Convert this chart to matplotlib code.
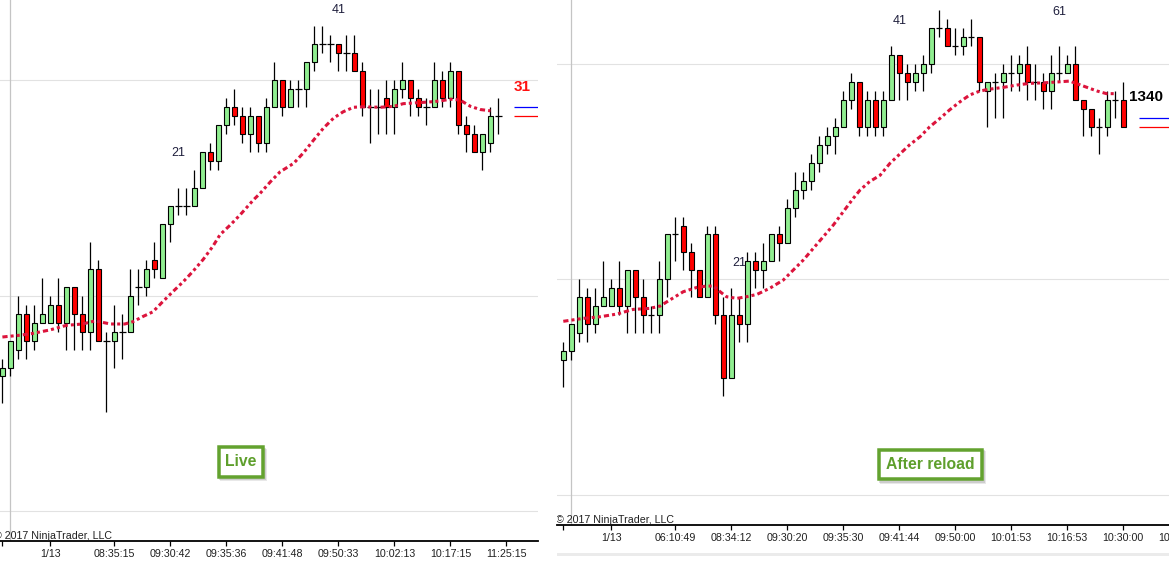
import numpy as np
import matplotlib
matplotlib.use('Agg')
import matplotlib.pyplot as plt
from matplotlib.patches import Rectangle

plt.rcParams['font.family'] = ['Liberation Sans', 'DejaVu Sans']

# prices are in ticks, relative to the middle grid line of each chart
live_open  = [-9, -8, -6, -2, -5, -3, -3, -1, -3, 1, -2, -4, 3, -5, -5, -4, -4, 1, 1, 4, 2,
              8, 10, 10, 10, 12, 16, 15, 19, 21, 20, 18, 20, 17, 21, 24, 21, 23, 23, 26, 28,
              28, 28, 27, 27, 25, 21, 21, 22, 21, 23, 24, 22, 21, 21, 24, 22, 25, 19, 18, 16,
              17, 20]
live_high  = [-7, -5, 0, -1, -1, 2, 0, 2, 1, 1, 0, 6, 4, -4, -1, -2, 3, 3, 4, 6, 8,
              10, 12, 12, 14, 16, 17, 19, 22, 23, 21, 21, 20, 22, 26, 24, 24, 24, 26, 30, 30,
              29, 28, 29, 29, 26, 23, 23, 24, 24, 26, 24, 23, 22, 26, 25, 26, 25, 20, 19, 18,
              21, 22]
live_low   = [-12, -9, -7, -7, -6, -3, -3, -4, -6, -6, -6, -6, -5, -13, -8, -7, -4, -1, 0, 2, 2,
              6, 9, 9, 10, 12, 14, 14, 18, 19, 17, 16, 16, 16, 21, 20, 21, 21, 21, 25, 27,
              26, 25, 25, 25, 20, 17, 18, 18, 18, 22, 20, 20, 19, 21, 21, 21, 18, 16, 16, 14,
              16, 18]
live_close = [-8, -5, -2, -5, -3, -2, -1, -3, 1, -2, -4, 3, -5, -5, -4, -4, 0, 1, 3, 3, 8,
              10, 10, 10, 12, 16, 15, 19, 21, 20, 18, 20, 17, 21, 24, 21, 23, 23, 26, 28, 28,
              28, 27, 27, 25, 21, 21, 21, 21, 23, 24, 22, 21, 21, 24, 22, 25, 19, 18, 16, 18,
              20, 20]

reload_open  = [-9, -8, -6, -2, -5, -3, -3, -1, -3, 1, -2, -4, -4, 0, 5, 6, 3, 1, -2, 5, -4,
                -11, -4, -5, 2, 1, 2, 5, 4, 8, 10, 11, 13, 15, 16, 17, 20, 22, 17, 20, 17,
                20, 25, 23, 22, 23, 24, 28, 28, 26, 26, 27, 27, 21, 22, 22, 23, 23, 24, 22, 22,
                21, 23, 23, 24, 20, 19, 17, 17, 20, 20]
reload_high  = [-7, -5, 0, -1, -1, 2, 0, 2, 1, 1, 0, -3, 2, 5, 7, 7, 4, 1, 6, 6, -2,
                -1, -2, 3, 3, 4, 5, 6, 9, 12, 12, 14, 16, 17, 18, 21, 23, 22, 21, 21, 21,
                26, 25, 24, 24, 25, 28, 30, 29, 28, 28, 29, 27, 22, 23, 24, 25, 25, 26, 24, 23,
                25, 26, 25, 26, 20, 19, 18, 21, 21, 22]
reload_low   = [-12, -9, -7, -7, -6, -3, -3, -4, -6, -6, -6, -6, -6, -2, 2, 1, -2, -2, -2, -5, -13,
                -11, -7, -7, -1, -1, 2, 2, 4, 7, 9, 10, 12, 14, 14, 17, 19, 16, 16, 16, 16,
                20, 20, 20, 21, 21, 23, 27, 26, 25, 25, 26, 21, 17, 18, 18, 21, 21, 20, 20, 19,
                19, 22, 23, 20, 16, 16, 14, 16, 18, 17]
reload_close = [-8, -5, -2, -5, -3, -2, -1, -3, 1, -2, -4, -4, 0, 5, 5, 3, 1, -2, 5, -4, -11,
                -4, -5, 2, 1, 2, 5, 4, 8, 10, 11, 13, 15, 16, 17, 20, 22, 17, 20, 17, 20,
                25, 23, 22, 23, 24, 28, 28, 26, 26, 27, 27, 22, 22, 22, 23, 23, 24, 22, 22, 21,
                23, 23, 24, 20, 19, 17, 17, 20, 20, 17]

# moving average (bar position, value)
live_ma_x = [0, 2.2, 3.8, 6, 8, 10, 11.6, 13.5, 15.3, 16.3, 17.6, 18.8, 20, 21.3, 22.6, 23.8,
             25.1, 26.3, 27.2, 28.5, 29.7, 31.4, 32.2, 33.5, 34.7, 36.4, 37.6, 38.9, 40.1,
             41.4, 42.6, 43.9, 45.1, 47.2, 48.9, 50.1, 51.8, 53.5, 54.7, 56, 57.2, 58.5, 59.7, 61]
live_ma = [-4.6, -4.4, -4.2, -3.8, -3.3, -3.15, -2.8, -3.15, -3.15, -2.9, -2.3, -1.8, -0.7, 0.45,
           1.56, 2.7, 4.05, 5.5, 6.8, 7.9, 9.0, 10.7, 11.4, 12.7, 13.8, 14.75, 15.9, 17.35, 18.65,
           19.8, 20.5, 21.0, 21.05, 21.0, 21.1, 21.4, 21.5, 21.6, 21.7, 21.9, 21.8, 21.1, 20.75, 20.6]
reload_ma_x = [0, 2.5, 4.6, 6.7, 8.75, 10.8, 12.1, 13.3, 15, 16.7, 17.9, 18.75, 19.6, 20.4, 21.7,
               22.9, 24.2, 25.8, 27.5, 28.75, 30, 31.25, 32.5, 33.75, 35, 36.25, 37.1, 38.3, 39.6,
               40.8, 42.1, 43.3, 44.6, 45.8, 47.1, 48.3, 49.6, 50.8, 52.1, 53.3, 55, 56.7, 58.3,
               60, 61.7, 63.3, 65, 66.7, 67.9, 68.9]
reload_ma = [-4.68, -4.35, -4.17, -3.87, -3.35, -3.24, -2.98, -2.31, -1.38, -0.9, -0.75, -0.75,
             -1.38, -1.94, -2.12, -1.94, -1.68, -1.0, -0.08, 1.04, 2.15, 3.45, 4.75, 6.05, 7.54,
             9.03, 9.96, 10.9, 11.6, 12.9, 14.0, 15.0, 15.9, 17.0, 17.95, 18.9, 19.8, 20.55, 21.0,
             21.2, 21.4, 21.66, 21.85, 21.9, 22.0, 22.1, 21.55, 21.0, 20.7, 20.7]

live_ticks = [0, 6, 14, 21, 28, 35, 42, 49, 56, 63]
live_labels = ['', '1/13', '08:35:15', '09:30:42', '09:35:36', '09:41:48', '09:50:33',
               '10:02:13', '10:17:15', '11:25:15']
reload_ticks = [0, 6, 14, 21, 28, 35, 42, 49, 56, 63, 70, 77]
reload_labels = ['', '1/13', '06:10:49', '08:34:12', '09:30:20', '09:35:30', '09:41:44',
                 '09:50:00', '10:01:53', '10:16:53', '10:30:00', '10:45:00']

live_counts = [21, 41]
reload_counts = [21, 41, 61]

W, H = 1169, 570
fig = plt.figure(figsize=(W / 100, H / 100), dpi=100)
fig.patch.set_facecolor('white')


def fx(x):
    return x / W


def fy(y):
    return 1 - y / H


def draw_candles(ax, o, h, l, c):
    o, h, l, c = map(np.array, (o, h, l, c))
    x = np.arange(len(o))
    ax.vlines(x, l, h, color='black', lw=0.9, zorder=2)
    up = c > o
    dn = c < o
    dj = c == o
    ax.bar(x[up], (c - o)[up], bottom=o[up], width=0.63, color='#90EE90',
           edgecolor='black', lw=0.8, zorder=3)
    ax.bar(x[dn], (c - o)[dn], bottom=o[dn], width=0.63, color='#FF0000',
           edgecolor='black', lw=0.8, zorder=3)
    ax.hlines(o[dj], x[dj] - 0.4, x[dj] + 0.4, color='black', lw=0.9, zorder=3)


def setup(ax, xlim, ylim, ticks, labels):
    ax.set_xlim(xlim)
    ax.set_ylim(ylim)
    for s in ['left', 'right', 'top']:
        ax.spines[s].set_visible(False)
    ax.spines['bottom'].set_linewidth(1.3)
    ax.set_yticks([])
    ax.set_xticks(ticks)
    ax.set_xticklabels(labels, fontsize=7.7, color='#202020')
    ax.tick_params(axis='x', length=3.6, width=0.9, pad=2, direction='out')
    for p in (-24, 0, 24):
        ax.axhline(p, color='#e2e2e2', lw=0.8, zorder=0)
    ax.axvline(1, color='#c4c4c4', lw=0.9, zorder=0)


def count_labels(ax, counts, high):
    for n in counts:
        ax.text(n + 1, high[n + 1] + 3.85, str(n), fontsize=9, color='#1e1e3c',
                ha='center', va='center', zorder=5)


def note_box(x0, y0, x1, y1, text):
    lw_px = 3.5
    for off, a in ((3, 0.18), (2, 0.25)):
        fig.patches.append(Rectangle((fx(x0 + off), fy(y1 + off)), (x1 - x0) / W, (y1 - y0) / H,
                                     transform=fig.transFigure, color='#808080', alpha=a, lw=0))
    fig.patches.append(Rectangle((fx(x0 + lw_px / 2), fy(y1 - lw_px / 2)),
                                 (x1 - x0 - lw_px) / W, (y1 - y0 - lw_px) / H,
                                 transform=fig.transFigure, facecolor='white',
                                 edgecolor='#63A22F', lw=lw_px * 0.72))
    fig.text(fx((x0 + x1) / 2), fy((y0 + y1) / 2 - 0.5), text, fontsize=11.3, fontweight='bold',
             color='#5E9F2C', ha='center', va='center')


# left: live chart
ax1 = fig.add_axes([0, fy(541), fx(537.7), 541 / H])
setup(ax1, (-0.3, 66.9), (-27.33, 32.95), live_ticks, live_labels)
draw_candles(ax1, live_open, live_high, live_low, live_close)
ax1.plot(live_ma_x, live_ma, color='#DC143C', lw=2.2, zorder=4,
         linestyle=(0, (1.7, 1.0, 1.0, 1.0, 1.0, 1.0)))
count_labels(ax1, live_counts, live_high)
ax1.hlines(live_close[-1] + 1, 64, 67.2, color='#0000FF', lw=0.9, zorder=4)
ax1.hlines(live_close[-1], 64, 67.2, color='#FF0000', lw=0.9, zorder=4)
ax1.text(64.9, 23.3, '31', color='#FF1010', fontsize=11, fontweight='bold',
         ha='center', va='center')
ax1.text(fx(-5.5), fy(539), '\u00a9 2017 NinjaTrader, LLC', transform=fig.transFigure,
         fontsize=7.7, color='#202020', ha='left', va='baseline')

# right: after reload
ax2 = fig.add_axes([fx(556.7), fy(525.3), (1190 - 556.7) / W, 525.3 / H])
setup(ax2, (-0.825, 78.34), (-27.42, 31.14), reload_ticks, reload_labels)
draw_candles(ax2, reload_open, reload_high, reload_low, reload_close)
ax2.plot(reload_ma_x, reload_ma, color='#DC143C', lw=2.2, zorder=4,
         linestyle=(0, (1.7, 1.0, 1.0, 1.0, 1.0, 1.0)))
count_labels(ax2, reload_counts, reload_high)
ax2.hlines(reload_close[-1] + 1, 72, 78.4, color='#0000FF', lw=0.9, zorder=4)
ax2.hlines(reload_close[-1], 72, 78.4, color='#FF0000', lw=0.9, zorder=4)
ax2.text(72.9, 20.3, '1340', color='black', fontsize=11, fontweight='bold',
         ha='center', va='center')
ax2.text(fx(555.5), fy(522.7), '\u00a9 2017 NinjaTrader, LLC', transform=fig.transFigure,
         fontsize=7.7, color='#202020', ha='left', va='baseline', clip_on=True)

# scrollbar strip under the right chart
fig.patches.append(Rectangle((fx(556.7), fy(555.7)), (W - 556.7) / W, 3 / H,
                             transform=fig.transFigure, color='#ebebeb', lw=0))

note_box(217.3, 445.7, 264.3, 478.3, 'Live')
note_box(877.3, 448.3, 983.3, 481.0, 'After reload')

fig.savefig('out.png', dpi=100)
